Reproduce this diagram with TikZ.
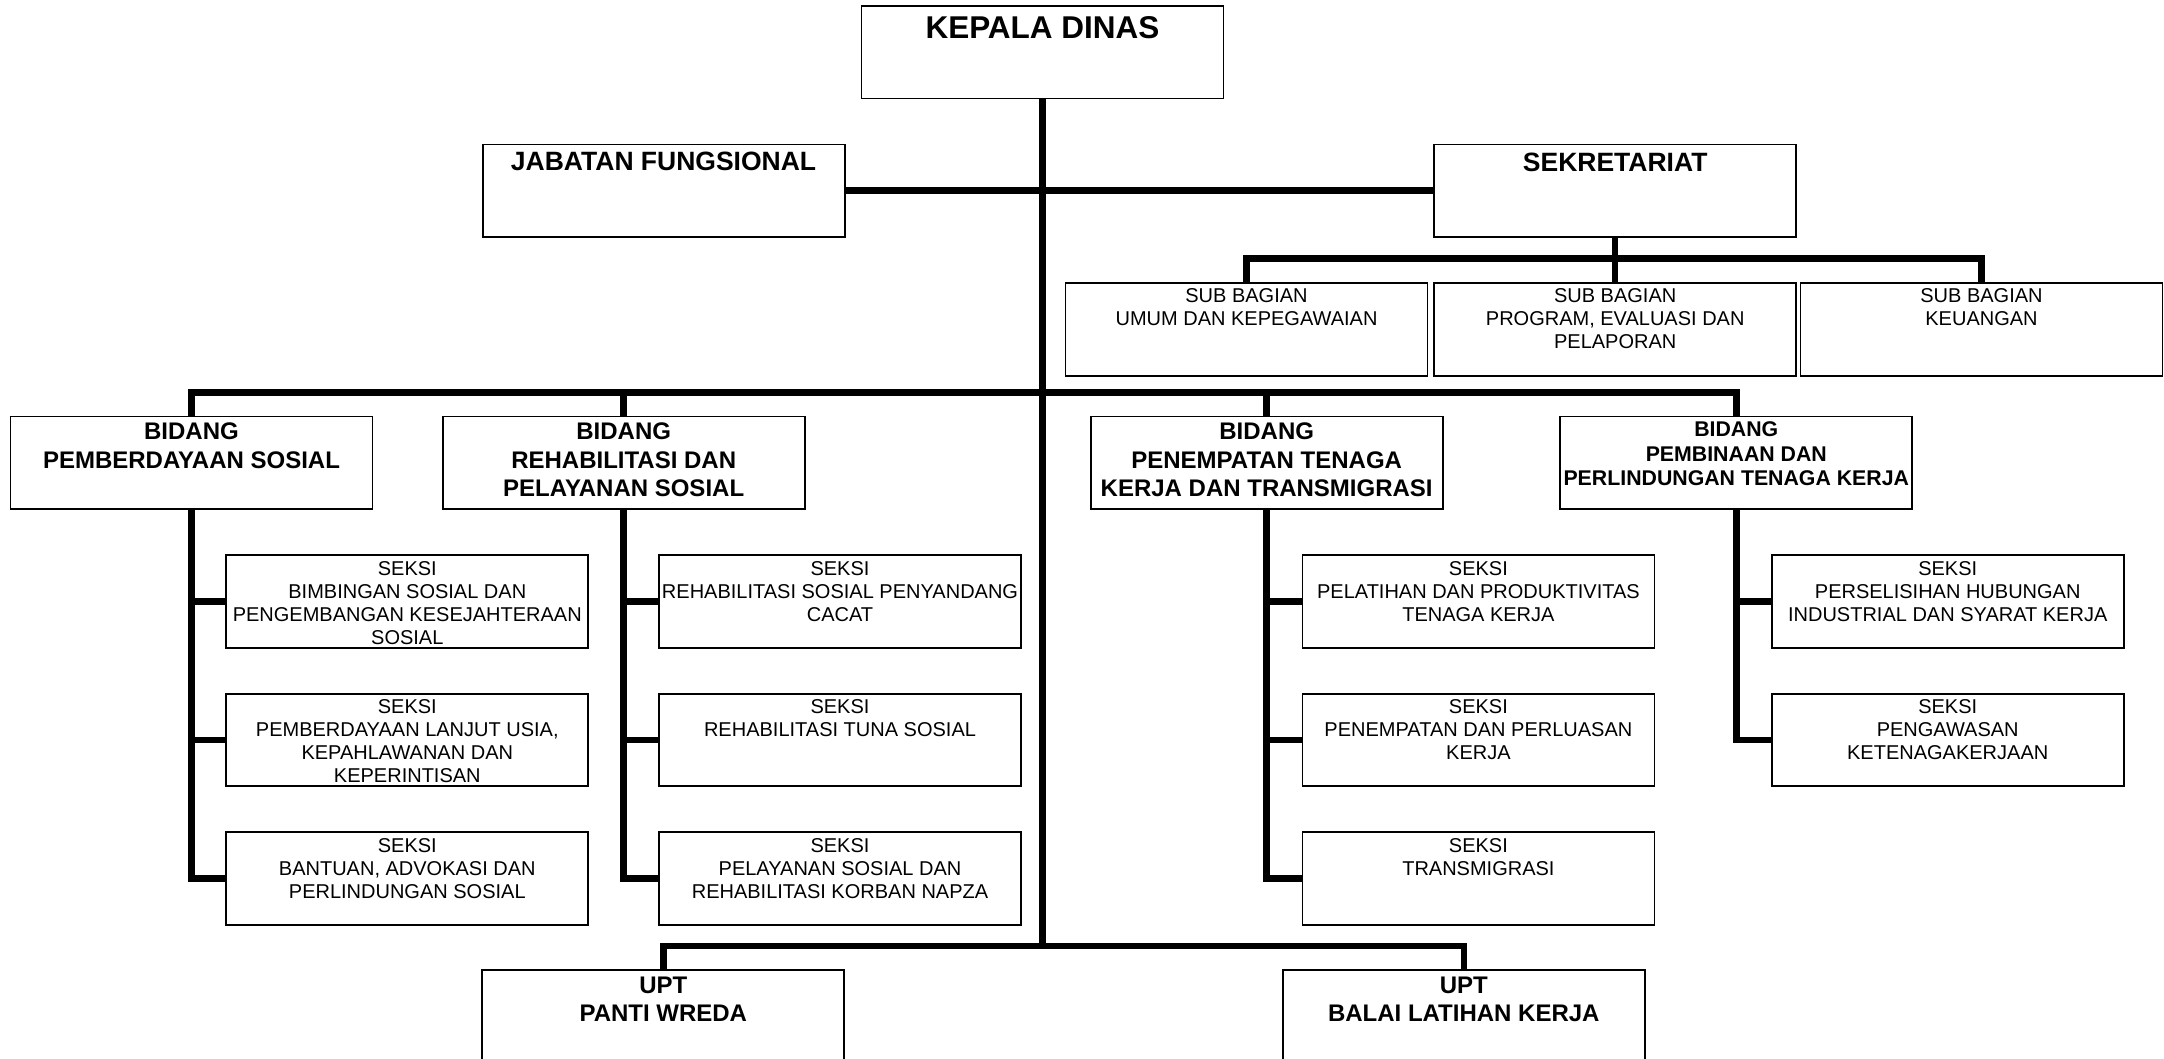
\documentclass[tikz,border=0pt]{standalone}
\usepackage{fontspec}
\setmainfont{Liberation Sans}
\newcommand{\bxt}[3]{\parbox[t]{362pt}{\centering\fontsize{#1}{#2}\selectfont #3}}
\begin{document}
\begin{tikzpicture}[x=1pt,y=-1pt,
  box/.style={draw, line width=1.8pt, minimum width=362pt, minimum height=92.5pt, inner sep=0pt, outer sep=0pt},
  nbox/.style={box, minimum width=352pt},
  conn/.style={line width=6.5pt, line join=miter},
  lbl/.style={anchor=base, inner sep=0pt, outer sep=0pt}]
\fill[white] (0,0) rectangle (2164,1058);
\useasboundingbox (0,0) rectangle (2164,1058);

% boxes
\node[box] (kd) at (1042.5,52.3) {};
\node[box] (jab) at (663.6,190.65) {};
\node[box] (sek) at (1615.2,190.65) {};
\node[box] (sb1) at (1246.5,329.5) {};
\node[box] (sb2) at (1615.2,329.5) {};
\node[box] (sb3) at (1981.5,329.5) {};
\node[box] (b1) at (191.5,462.75) {};
\node[box] (b2) at (623.7,462.75) {};
\node[nbox] (b3) at (1266.7,462.75) {};
\node[nbox] (b4) at (1736.3,462.75) {};
\foreach \c/\x in {1/407.3,2/840}{
  \node[box] (s\c1) at (\x,601.45) {};
  \node[box] (s\c2) at (\x,739.85) {};
  \node[box] (s\c3) at (\x,878.35) {};
}
\node[nbox] (s31) at (1478.4,601.45) {};
\node[nbox] (s32) at (1478.4,739.85) {};
\node[nbox] (s33) at (1478.4,878.35) {};
\node[nbox] (s41) at (1947.7,601.45) {};
\node[nbox] (s42) at (1947.7,739.85) {};
\node[box] (u1) at (663.3,1016.25) {};
\node[box] (u2) at (1463.8,1016.25) {};

% texts
\node[lbl] (kdt) at ([yshift=-32.3pt]kd.north) {\bxt{31.5pt}{36pt}{\bfseries KEPALA DINAS}};
\node[lbl] (jabt) at ([yshift=-26pt]jab.north) {\bxt{26.5pt}{30pt}{\bfseries JABATAN FUNGSIONAL}};
\node[lbl] (sekt) at ([yshift=-27pt]sek.north) {\bxt{26.5pt}{30pt}{\bfseries SEKRETARIAT}};
\node[lbl] (sb1t) at ([yshift=-19.4pt]sb1.north) {\bxt{20pt}{22.7pt}{SUB BAGIAN\\UMUM DAN KEPEGAWAIAN}};
\node[lbl] (sb2t) at ([yshift=-19.4pt]sb2.north) {\bxt{20pt}{22.7pt}{SUB BAGIAN\\PROGRAM, EVALUASI DAN\\PELAPORAN}};
\node[lbl] (sb3t) at ([yshift=-19.4pt]sb3.north) {\bxt{20pt}{22.7pt}{SUB BAGIAN\\KEUANGAN}};
\node[lbl] (b1t) at ([yshift=-23.2pt]b1.north) {\bxt{24pt}{28.3pt}{\bfseries BIDANG\\PEMBERDAYAAN SOSIAL}};
\node[lbl] (b2t) at ([yshift=-23.2pt]b2.north) {\bxt{24pt}{28.3pt}{\bfseries BIDANG\\REHABILITASI DAN\\PELAYANAN SOSIAL}};
\node[lbl] (b3t) at ([yshift=-23.2pt]b3.north) {\bxt{24pt}{28.3pt}{\bfseries BIDANG\\PENEMPATAN TENAGA\\KERJA DAN TRANSMIGRASI}};
\node[lbl] (b4t) at ([yshift=-20.2pt]b4.north) {\bxt{21.3pt}{24.5pt}{\bfseries BIDANG\\PEMBINAAN DAN\\PERLINDUNGAN TENAGA KERJA}};
\node[lbl] (s11t) at ([yshift=-20pt]s11.north) {\bxt{20pt}{23pt}{SEKSI\\BIMBINGAN SOSIAL DAN\\PENGEMBANGAN KESEJAHTERAAN\\SOSIAL}};
\node[lbl] (s12t) at ([yshift=-20pt]s12.north) {\bxt{20pt}{23pt}{SEKSI\\PEMBERDAYAAN LANJUT USIA,\\KEPAHLAWANAN DAN\\KEPERINTISAN}};
\node[lbl] (s13t) at ([yshift=-20pt]s13.north) {\bxt{20pt}{23pt}{SEKSI\\BANTUAN, ADVOKASI DAN\\PERLINDUNGAN SOSIAL}};
\node[lbl] (s21t) at ([yshift=-20pt]s21.north) {\bxt{20pt}{23pt}{SEKSI\\REHABILITASI SOSIAL PENYANDANG\\CACAT}};
\node[lbl] (s22t) at ([yshift=-20pt]s22.north) {\bxt{20pt}{23pt}{SEKSI\\REHABILITASI TUNA SOSIAL}};
\node[lbl] (s23t) at ([yshift=-20pt]s23.north) {\bxt{20pt}{23pt}{SEKSI\\PELAYANAN SOSIAL DAN\\REHABILITASI KORBAN NAPZA}};
\node[lbl] (s31t) at ([yshift=-20pt]s31.north) {\bxt{20pt}{23pt}{SEKSI\\PELATIHAN DAN PRODUKTIVITAS\\TENAGA KERJA}};
\node[lbl] (s32t) at ([yshift=-20pt]s32.north) {\bxt{20pt}{23pt}{SEKSI\\PENEMPATAN DAN PERLUASAN\\KERJA}};
\node[lbl] (s33t) at ([yshift=-20pt]s33.north) {\bxt{20pt}{23pt}{SEKSI\\TRANSMIGRASI}};
\node[lbl] (s41t) at ([yshift=-20pt]s41.north) {\bxt{20pt}{23pt}{SEKSI\\PERSELISIHAN HUBUNGAN\\INDUSTRIAL DAN SYARAT KERJA}};
\node[lbl] (s42t) at ([yshift=-20pt]s42.north) {\bxt{20pt}{23pt}{SEKSI\\PENGAWASAN\\KETENAGAKERJAAN}};
\node[lbl] (u1t) at ([yshift=-23pt]u1.north) {\bxt{24pt}{28pt}{\bfseries UPT\\PANTI WREDA}};
\node[lbl] (u2t) at ([yshift=-23pt]u2.north) {\bxt{24pt}{28pt}{\bfseries UPT\\BALAI LATIHAN KERJA}};

% connectors
\coordinate (ub) at (1042.5,946);
\coordinate (bb) at (1042.5,392.7);
\coordinate (sbb) at (1615.2,258.7);
\draw[conn] (kd.south) -- (ub);
\draw[conn] (jab.east) -- (sek.west);
\draw[conn] (sek.south) -- (sbb);
\draw[conn] (sb1.north) -- (sb1.north |- sbb) -- (sb3.north |- sbb) -- (sb3.north);
\draw[conn] (sb2.north) -- (sbb);
\draw[conn] (b1.north) -- (b1.north |- bb) -- (b4.north |- bb) -- (b4.north);
\draw[conn] (b2.north) -- (b2.north |- bb);
\draw[conn] (b3.north) -- (b3.north |- bb);
\draw[conn] (u1.north) -- (u1.north |- ub) -- (u2.north |- ub) -- (u2.north);
\foreach \c in {1,2,3}{
  \draw[conn] (b\c.south) -- (b\c.south |- s\c3.west) -- (s\c3.west);
  \draw[conn] (s\c1.west) -- (s\c1.west -| b\c.south);
  \draw[conn] (s\c2.west) -- (s\c2.west -| b\c.south);
}
\draw[conn] (b4.south) -- (b4.south |- s42.west) -- (s42.west);
\draw[conn] (s41.west) -- (s41.west -| b4.south);
\end{tikzpicture}
\end{document}
